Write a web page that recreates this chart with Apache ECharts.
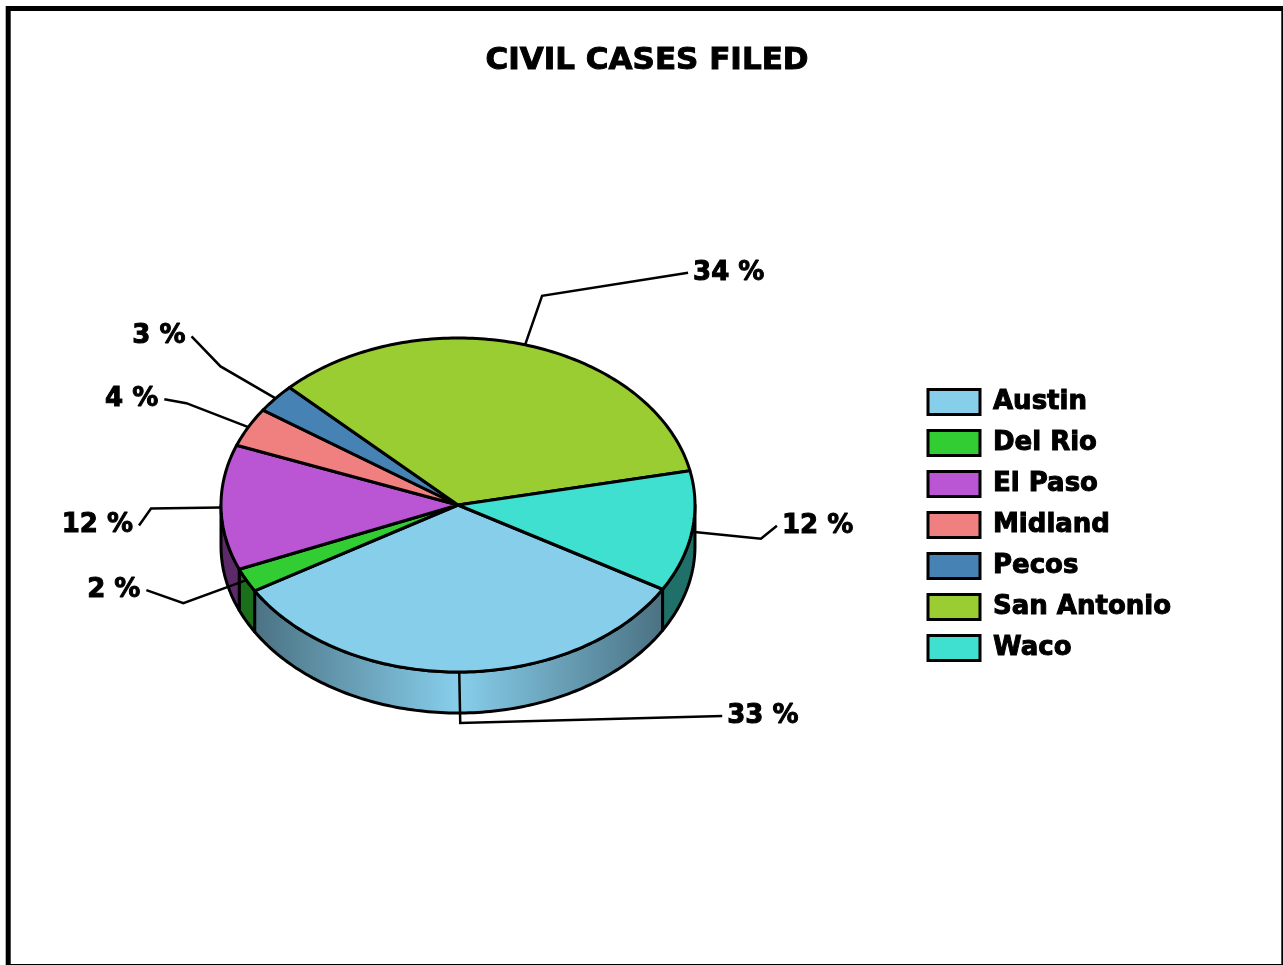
<!DOCTYPE html>
<html>
<head>
<meta charset="utf-8">
<title>Civil Cases Filed</title>
<script src="https://cdn.jsdelivr.net/npm/echarts@6/dist/echarts.min.js"></script>
<style>
  html, body { margin: 0; padding: 0; background: #fff; }
  #chart { width: 1283px; height: 965px; }
</style>
</head>
<body>
<div id="chart"></div>
<script>
// data (slice sizes estimated, labels show them rounded)
const cities = ['Austin', 'Del Rio', 'El Paso', 'Midland', 'Pecos', 'San Antonio', 'Waco'];
const percents = [33, 2.3, 12.1, 3.8, 2.8, 34.3, 11.7];

const topColors = ['#87CEEB', '#32CD32', '#BA55D3', '#F08080', '#4682B4', '#9ACD32', '#40E0D0'];
const wallColors = ['#4B7283', '#1B6F1B', '#5D2A69', '#844747', '#274763', '#55711C', '#1F7068'];

// pie geometry: tilted disc, angles clockwise from 3 o'clock
const cx = 458, cy = 505, rx = 237, ry = 167, depth = 41;
const startAngle = 30.3;
const font = 'bold 26px "DejaVu Sans"';

// leader line bends relative to the slice's rim point
const leaders = [
  [[1, 51], [263, 44]],
  [[-63, 23], [-100, 10]],
  [[-70, 1], [-82, 18]],
  [[-62, -24], [-84, -28]],
  [[-55, -32], [-84, -62]],
  [[17, -49], [163, -72]],
  [[69, 7], [85, -6]]
];

const total = percents.reduce((a, b) => a + b, 0);
const rim = (deg, drop) => {
  const t = deg * Math.PI / 180;
  return [cx + rx * Math.cos(t), cy + ry * Math.sin(t) + (drop || 0)];
};
const arc = (from, to, drop) => {
  const pts = [];
  const steps = Math.max(2, Math.ceil(Math.abs(to - from)));
  for (let i = 0; i <= steps; i++) pts.push(rim(from + (to - from) * i / steps, drop));
  return pts;
};

function sliceAngles(index) {
  let before = 0;
  for (let i = 0; i < index; i++) before += percents[i];
  const from = startAngle + before / total * 360;
  return [from, from + percents[index] / total * 360];
}

function wallGradient(index) {
  return new echarts.graphic.LinearGradient(cx - rx, 0, cx + rx, 0, [
    { offset: 0, color: wallColors[index] },
    { offset: 0.07, color: wallColors[index] },
    { offset: 0.5, color: topColors[index] },
    { offset: 0.93, color: wallColors[index] },
    { offset: 1, color: wallColors[index] }
  ], true);
}

function renderSlice(index) {
  const [from, to] = sliceAngles(index);
  const children = [];

  // side wall, only the part of the rim that faces the viewer
  const wallFrom = Math.max(from, 0), wallTo = Math.min(to, 180);
  const wrapFrom = Math.max(from - 360, 0), wrapTo = Math.min(to - 360, 180);
  [[wallFrom, wallTo], [wrapFrom, wrapTo]].forEach(([a, b]) => {
    if (b <= a) return;
    children.push({
      type: 'polygon',
      z2: 1,
      shape: { points: arc(a, b, 0).concat(arc(b, a, depth)) },
      style: { fill: index === 0 ? wallGradient(index) : wallColors[index], stroke: '#000', lineWidth: 3, lineJoin: 'round' }
    });
  });

  // top face
  children.push({
    type: 'polygon',
    z2: 2,
    shape: { points: [[cx, cy]].concat(arc(from, to, 0)) },
    style: { fill: topColors[index], stroke: '#000', lineWidth: 3, lineJoin: 'round' }
  });

  // leader and label
  const start = rim((from + to) / 2, 0);
  const [bend, end] = leaders[index];
  const tip = [start[0] + end[0], start[1] + end[1]];
  children.push({
    type: 'polyline',
    z2: 3,
    shape: { points: [start, [start[0] + bend[0], start[1] + bend[1]], tip] },
    style: { fill: null, stroke: '#000', lineWidth: 2.5 }
  });
  const onRight = end[0] > 0;
  children.push({
    type: 'text',
    z2: 4,
    style: {
      text: Math.round(percents[index]) + ' %',
      x: tip[0] + (onRight ? 5 : -6),
      y: tip[1],
      align: onRight ? 'left' : 'right',
      verticalAlign: 'middle',
      font: font,
      fill: '#000',
      stroke: '#000',
      lineWidth: 1
    }
  });
  return { type: 'group', children: children };
}

const option = {
  animation: false,
  backgroundColor: '#fff',
  title: {
    text: 'CIVIL CASES FILED',
    left: 642,
    top: 40,
    textAlign: 'center',
    textStyle: { fontFamily: 'DejaVu Sans', fontWeight: 'bold', fontSize: 31, color: '#000', textBorderColor: '#000', textBorderWidth: 1 }
  },
  legend: {
    orient: 'vertical',
    left: 926.5,
    top: 388,
    padding: 0,
    itemWidth: 52,
    itemHeight: 25,
    itemGap: 13,
    icon: 'rect',
    selectedMode: false,
    data: cities,
    itemStyle: { borderColor: '#000', borderWidth: 3 },
    textStyle: { fontFamily: 'DejaVu Sans', fontWeight: 'bold', fontSize: 26, color: '#000', textBorderColor: '#000', textBorderWidth: 1, padding: [0, 0, 0, 8] }
  },
  graphic: [{
    type: 'rect',
    silent: true,
    shape: { x: 8.2, y: 8.5, width: 1275.6, height: 958 },
    style: { fill: null, stroke: '#000', lineWidth: 5 }
  }],
  series: cities.map((name, index) => ({
    type: 'custom',
    name: name,
    coordinateSystem: 'none',
    silent: true,
    itemStyle: { color: topColors[index] },
    data: [percents[index]],
    renderItem: () => renderSlice(index)
  }))
};

const chart = echarts.init(document.getElementById('chart'));
chart.setOption(option);
</script>
</body>
</html>
